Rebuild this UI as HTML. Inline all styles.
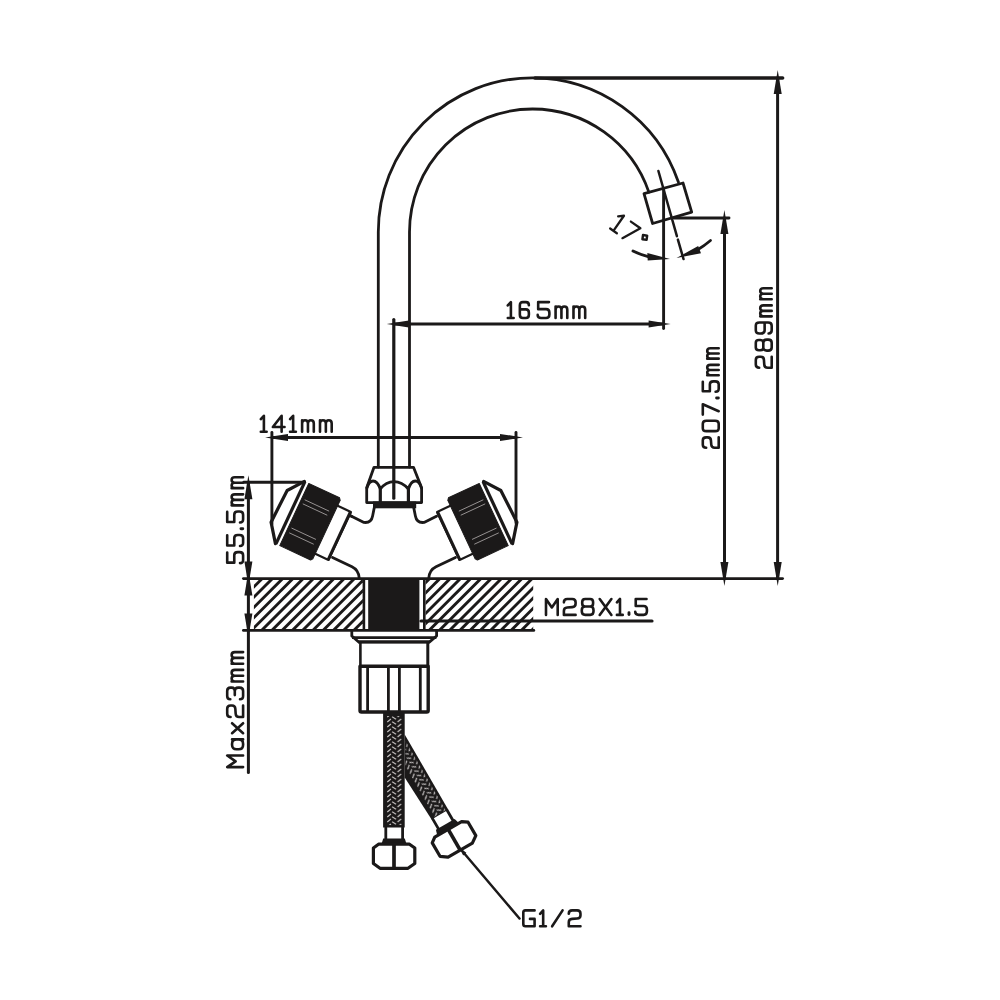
<!DOCTYPE html>
<html><head><meta charset="utf-8"><title>Faucet dimensions</title>
<style>
html,body{margin:0;padding:0;background:#fff;}
body{width:1000px;height:1000px;overflow:hidden;font-family:"Liberation Sans",sans-serif;}
svg{display:block;}
</style></head><body>
<svg width="1000" height="1000" viewBox="0 0 1000 1000">
<rect width="1000" height="1000" fill="#ffffff"/>
<path d="M378.30,467 L378.30,232.0 A154.2,154.2 0 0 1 532.5,77.80000000000001 A154.2,154.2 0 0 1 678.39,182.05" fill="none" stroke="#1b1919" stroke-width="2.8" stroke-linejoin="round" stroke-linecap="round" />
<path d="M409.50,467 L409.50,232.0 A123.0,123.0 0 0 1 532.5,109.0 A123.0,123.0 0 0 1 648.87,192.16" fill="none" stroke="#1b1919" stroke-width="2.8" stroke-linejoin="round" stroke-linecap="round" />
<line x1="393.8" y1="319.5" x2="393.8" y2="498.2" stroke="#1b1919" stroke-width="3.2" stroke-linecap="round"/>
<path d="M644,193.6 L683,183 L691.7,212.2 L652.6,223.5 Z" fill="none" stroke="#1b1919" stroke-width="2.8" stroke-linejoin="round" stroke-linecap="round" />
<path d="M374,467.3 L413.5,467.3 L421.6,487.8 L421.6,502.6 L366.7,502.6 L366.7,487.8 Z" fill="none" stroke="#1b1919" stroke-width="2.8" stroke-linejoin="round" stroke-linecap="round" />
<path d="M366.9,488 Q369,481 373,481 Q377.5,481 380.3,489 Q386,481.6 394,481.6 Q402,481.6 408.4,489 Q411,481 415.3,481 Q419.5,481 421.4,488" fill="none" stroke="#1b1919" stroke-width="2.8" stroke-linejoin="round" stroke-linecap="round" />
<line x1="380.3" y1="488.5" x2="380.3" y2="502" stroke="#1b1919" stroke-width="3.2" stroke-linecap="butt"/>
<line x1="408.4" y1="488.5" x2="408.4" y2="502" stroke="#1b1919" stroke-width="3.2" stroke-linecap="butt"/>
<rect x="373" y="501.5" width="43.2" height="6.8" fill="#1b1919"/>
<path d="M374.2,508 L372.6,516 Q371.3,523.2 364,522.4 L351.5,516.2" fill="none" stroke="#1b1919" stroke-width="2.8" stroke-linejoin="round" stroke-linecap="round" />
<path d="M413.8,508 L415.4,516 Q416.7,523.2 424,522.4 L436.5,516.2" fill="none" stroke="#1b1919" stroke-width="2.8" stroke-linejoin="round" stroke-linecap="round" />
<g transform="translate(303.5,481) rotate(25.0)">
<path d="M1,0 L-10.8,15.5 L-12,51 L1,68.6" fill="none" stroke="#1b1919" stroke-width="3.2" stroke-linejoin="round" stroke-linecap="round" />
<rect x="0" y="0" width="3.2" height="68.6" fill="#1b1919"/>
<path d="M5.8,0 L39.8,0 L41.4,2 L41.4,66.6 L39.8,68.6 L5.8,68.6 Z" fill="#1b1919" stroke="#1b1919" stroke-width="1" stroke-linejoin="round"/>
<line x1="9" y1="16.5" x2="36" y2="16.5" stroke="#b8b4b4" stroke-width="0.7"/>
<line x1="9" y1="21" x2="36" y2="21" stroke="#b8b4b4" stroke-width="0.7"/>
<line x1="9" y1="47.7" x2="36" y2="47.7" stroke="#b8b4b4" stroke-width="0.7"/>
<line x1="9" y1="53" x2="36" y2="53" stroke="#b8b4b4" stroke-width="0.7"/>
<path d="M41.4,8 L56,8 L56,61 L41.4,61" fill="none" stroke="#1b1919" stroke-width="2.2" stroke-linejoin="round" stroke-linecap="round" />
<line x1="55.6" y1="8" x2="55.6" y2="61" stroke="#1b1919" stroke-width="3.0" stroke-linecap="butt"/>
</g>
<g transform="translate(788,0) scale(-1,1)"><g transform="translate(303.5,481) rotate(25.0)">
<path d="M1,0 L-10.8,15.5 L-12,51 L1,68.6" fill="none" stroke="#1b1919" stroke-width="3.2" stroke-linejoin="round" stroke-linecap="round" />
<rect x="0" y="0" width="3.2" height="68.6" fill="#1b1919"/>
<path d="M5.8,0 L39.8,0 L41.4,2 L41.4,66.6 L39.8,68.6 L5.8,68.6 Z" fill="#1b1919" stroke="#1b1919" stroke-width="1" stroke-linejoin="round"/>
<line x1="9" y1="16.5" x2="36" y2="16.5" stroke="#b8b4b4" stroke-width="0.7"/>
<line x1="9" y1="21" x2="36" y2="21" stroke="#b8b4b4" stroke-width="0.7"/>
<line x1="9" y1="47.7" x2="36" y2="47.7" stroke="#b8b4b4" stroke-width="0.7"/>
<line x1="9" y1="53" x2="36" y2="53" stroke="#b8b4b4" stroke-width="0.7"/>
<path d="M41.4,8 L56,8 L56,61 L41.4,61" fill="none" stroke="#1b1919" stroke-width="2.2" stroke-linejoin="round" stroke-linecap="round" />
<line x1="55.6" y1="8" x2="55.6" y2="61" stroke="#1b1919" stroke-width="3.0" stroke-linecap="butt"/>
</g></g>
<path d="M332.5,557.5 L352,566.8 Q358.6,570 359.2,578" fill="none" stroke="#1b1919" stroke-width="2.8" stroke-linejoin="round" stroke-linecap="round" />
<path d="M455.5,557.5 L436,566.8 Q429.4,570 428.8,578" fill="none" stroke="#1b1919" stroke-width="2.8" stroke-linejoin="round" stroke-linecap="round" />
<path d="M351.5,516.2 L350.5,515.7" fill="none" stroke="#1b1919" stroke-width="2.8" stroke-linejoin="round" stroke-linecap="round" />
<defs><clipPath id="hL"><rect x="253.9" y="578.6" width="109" height="51.8"/></clipPath><clipPath id="hR"><rect x="425.6" y="578.6" width="107.6" height="51.8"/></clipPath></defs>
<g clip-path="url(#hL)" stroke="#1b1919" stroke-width="2.9">
<line x1="154.10" y1="635.4" x2="219.10" y2="570.4"/>
<line x1="164.35" y1="635.4" x2="229.35" y2="570.4"/>
<line x1="174.60" y1="635.4" x2="239.60" y2="570.4"/>
<line x1="184.85" y1="635.4" x2="249.85" y2="570.4"/>
<line x1="195.10" y1="635.4" x2="260.10" y2="570.4"/>
<line x1="205.35" y1="635.4" x2="270.35" y2="570.4"/>
<line x1="215.60" y1="635.4" x2="280.60" y2="570.4"/>
<line x1="225.85" y1="635.4" x2="290.85" y2="570.4"/>
<line x1="236.10" y1="635.4" x2="301.10" y2="570.4"/>
<line x1="246.35" y1="635.4" x2="311.35" y2="570.4"/>
<line x1="256.60" y1="635.4" x2="321.60" y2="570.4"/>
<line x1="266.85" y1="635.4" x2="331.85" y2="570.4"/>
<line x1="277.10" y1="635.4" x2="342.10" y2="570.4"/>
<line x1="287.35" y1="635.4" x2="352.35" y2="570.4"/>
<line x1="297.60" y1="635.4" x2="362.60" y2="570.4"/>
<line x1="307.85" y1="635.4" x2="372.85" y2="570.4"/>
<line x1="318.10" y1="635.4" x2="383.10" y2="570.4"/>
<line x1="328.35" y1="635.4" x2="393.35" y2="570.4"/>
<line x1="338.60" y1="635.4" x2="403.60" y2="570.4"/>
<line x1="348.85" y1="635.4" x2="413.85" y2="570.4"/>
<line x1="359.10" y1="635.4" x2="424.10" y2="570.4"/>
</g>
<g clip-path="url(#hR)" stroke="#1b1919" stroke-width="2.9">
<line x1="157.60" y1="635.4" x2="222.60" y2="570.4"/>
<line x1="167.85" y1="635.4" x2="232.85" y2="570.4"/>
<line x1="178.10" y1="635.4" x2="243.10" y2="570.4"/>
<line x1="188.35" y1="635.4" x2="253.35" y2="570.4"/>
<line x1="198.60" y1="635.4" x2="263.60" y2="570.4"/>
<line x1="208.85" y1="635.4" x2="273.85" y2="570.4"/>
<line x1="219.10" y1="635.4" x2="284.10" y2="570.4"/>
<line x1="229.35" y1="635.4" x2="294.35" y2="570.4"/>
<line x1="239.60" y1="635.4" x2="304.60" y2="570.4"/>
<line x1="249.85" y1="635.4" x2="314.85" y2="570.4"/>
<line x1="260.10" y1="635.4" x2="325.10" y2="570.4"/>
<line x1="270.35" y1="635.4" x2="335.35" y2="570.4"/>
<line x1="280.60" y1="635.4" x2="345.60" y2="570.4"/>
<line x1="290.85" y1="635.4" x2="355.85" y2="570.4"/>
<line x1="301.10" y1="635.4" x2="366.10" y2="570.4"/>
<line x1="311.35" y1="635.4" x2="376.35" y2="570.4"/>
<line x1="321.60" y1="635.4" x2="386.60" y2="570.4"/>
<line x1="331.85" y1="635.4" x2="396.85" y2="570.4"/>
<line x1="342.10" y1="635.4" x2="407.10" y2="570.4"/>
<line x1="352.35" y1="635.4" x2="417.35" y2="570.4"/>
<line x1="362.60" y1="635.4" x2="427.60" y2="570.4"/>
<line x1="372.85" y1="635.4" x2="437.85" y2="570.4"/>
<line x1="383.10" y1="635.4" x2="448.10" y2="570.4"/>
<line x1="393.35" y1="635.4" x2="458.35" y2="570.4"/>
<line x1="403.60" y1="635.4" x2="468.60" y2="570.4"/>
<line x1="413.85" y1="635.4" x2="478.85" y2="570.4"/>
<line x1="424.10" y1="635.4" x2="489.10" y2="570.4"/>
<line x1="434.35" y1="635.4" x2="499.35" y2="570.4"/>
<line x1="444.60" y1="635.4" x2="509.60" y2="570.4"/>
<line x1="454.85" y1="635.4" x2="519.85" y2="570.4"/>
<line x1="465.10" y1="635.4" x2="530.10" y2="570.4"/>
<line x1="475.35" y1="635.4" x2="540.35" y2="570.4"/>
<line x1="485.60" y1="635.4" x2="550.60" y2="570.4"/>
<line x1="495.85" y1="635.4" x2="560.85" y2="570.4"/>
<line x1="506.10" y1="635.4" x2="571.10" y2="570.4"/>
<line x1="516.35" y1="635.4" x2="581.35" y2="570.4"/>
<line x1="526.60" y1="635.4" x2="591.60" y2="570.4"/>
<line x1="536.85" y1="635.4" x2="601.85" y2="570.4"/>
</g>
<line x1="243.4" y1="578.6" x2="782.6" y2="578.6" stroke="#1b1919" stroke-width="2.8" stroke-linecap="round"/>
<line x1="243.4" y1="630.4" x2="533.8" y2="630.4" stroke="#1b1919" stroke-width="2.8" stroke-linecap="round"/>
<line x1="363.9" y1="578.6" x2="363.9" y2="630.4" stroke="#1b1919" stroke-width="2.6" stroke-linecap="butt"/>
<line x1="424.3" y1="578.6" x2="424.3" y2="630.4" stroke="#1b1919" stroke-width="2.6" stroke-linecap="butt"/>
<rect x="368.2" y="578.6" width="51.2" height="52" fill="#1b1919"/>
<line x1="421" y1="621" x2="652" y2="621" stroke="#1b1919" stroke-width="3.2" stroke-linecap="round"/>
<path d="M351.8,630.5 L351.8,636 L358.4,641.8 L429.6,641.8 L436.6,636 L436.6,630.5" fill="none" stroke="#1b1919" stroke-width="2.8" stroke-linejoin="round" stroke-linecap="round" />
<line x1="352" y1="637.6" x2="436.4" y2="637.6" stroke="#1b1919" stroke-width="2.6" stroke-linecap="butt"/>
<line x1="358" y1="642" x2="430" y2="642" stroke="#1b1919" stroke-width="3.0" stroke-linecap="butt"/>
<line x1="360.4" y1="642" x2="360.4" y2="666" stroke="#1b1919" stroke-width="2.6" stroke-linecap="butt"/>
<line x1="427.8" y1="642" x2="427.8" y2="666" stroke="#1b1919" stroke-width="3.0" stroke-linecap="butt"/>
<path d="M360,666.2 L428.2,666.2 L428.2,710.5 Q428.2,712 426.7,712 L361.5,712 Q360,712 360,710.5 Z" fill="none" stroke="#1b1919" stroke-width="3.4" stroke-linejoin="round" stroke-linecap="round" />
<line x1="367.6" y1="666" x2="367.6" y2="712" stroke="#1b1919" stroke-width="2.8" stroke-linecap="butt"/>
<line x1="388.4" y1="666" x2="388.4" y2="712" stroke="#1b1919" stroke-width="2.8" stroke-linecap="butt"/>
<line x1="399.4" y1="666" x2="399.4" y2="712" stroke="#1b1919" stroke-width="2.8" stroke-linecap="butt"/>
<line x1="420.3" y1="666" x2="420.3" y2="712" stroke="#1b1919" stroke-width="2.8" stroke-linecap="butt"/>
<defs><pattern id="hb" x="383.1" y="713" width="21.6" height="5" patternUnits="userSpaceOnUse"><path d="M4.2,4 L7.8,1 M9,-1.3 L12.9,1.3 M9,3.7 L12.9,6.3 M14.4,4 L18,1" stroke="#c9c5c5" stroke-width="1.1" fill="none"/></pattern></defs>
<rect x="383.1" y="712.5" width="21.6" height="115" fill="#1b1919"/>
<rect x="383.1" y="716" width="21.6" height="109" fill="url(#hb)"/>
<path d="M385.8,827.4 L385.8,839 M402.6,827.4 L402.6,839" fill="none" stroke="#1b1919" stroke-width="2.8" stroke-linejoin="round" stroke-linecap="round" />
<path d="M383.2,838.4 L404.8,838.4 L406.5,844 L381.5,844 Z" fill="#1b1919"/>
<path d="M378.5,844.2 L409.5,844.2 L414.8,848 L414.8,863.5 L408,868.3 L380,868.3 L373.4,863.5 L373.4,848 Z" fill="none" stroke="#1b1919" stroke-width="3.2" stroke-linejoin="round" stroke-linecap="round" />
<line x1="394" y1="844" x2="394" y2="868.5" stroke="#1b1919" stroke-width="3.7" stroke-linecap="butt"/>
<path d="M404.7,734.4 L448.3,809.8 L431.6,819.5 L404.7,777.6 Z" fill="#1b1919"/>
<defs><clipPath id="rh"><path d="M405.5,741 L445.6,810.2 L433.2,817.4 L405.5,777 Z"/></clipPath></defs>
<g clip-path="url(#rh)"><g transform="translate(0.8,-0.7) rotate(-30 394.2 737.5)"><rect x="381.1" y="730" width="21.6" height="100" fill="url(#hb)" transform="translate(1.6,0) "/></g></g>
<g transform="translate(0.8,-0.7) rotate(-30 394.2 737.5)">
<path d="M385.8,827.4 L385.8,839 M402.6,827.4 L402.6,839" fill="none" stroke="#1b1919" stroke-width="2.8" stroke-linejoin="round" stroke-linecap="round" />
<path d="M383.2,838.4 L404.8,838.4 L406.5,844 L381.5,844 Z" fill="#1b1919"/>
<path d="M378.5,844.2 L409.5,844.2 L414.8,848 L414.8,863.5 L408,868.3 L380,868.3 L373.4,863.5 L373.4,848 Z" fill="none" stroke="#1b1919" stroke-width="3.2" stroke-linejoin="round" stroke-linecap="round" />
<line x1="394" y1="844" x2="394" y2="868.5" stroke="#1b1919" stroke-width="3.7" stroke-linecap="butt"/>
</g>
<line x1="460.5" y1="849" x2="519.5" y2="918.5" stroke="#1b1919" stroke-width="2.5" stroke-linecap="round"/>
<polygon points="459.60,848.00 466.38,852.74 463.17,855.46" fill="#1b1919" stroke="none"/>
<line x1="535" y1="78" x2="782.6" y2="78" stroke="#1b1919" stroke-width="3.6" stroke-linecap="round"/>
<line x1="777.6" y1="78" x2="777.6" y2="578.6" stroke="#1b1919" stroke-width="3.0" stroke-linecap="butt"/>
<polygon points="777.70,70.00 781.70,94.00 773.70,94.00" fill="#1b1919" stroke="none"/>
<polygon points="777.70,586.10 773.70,562.10 781.70,562.10" fill="#1b1919" stroke="none"/>
<line x1="674" y1="218" x2="729" y2="218" stroke="#1b1919" stroke-width="2.9" stroke-linecap="round"/>
<line x1="724.5" y1="218" x2="724.5" y2="578.6" stroke="#1b1919" stroke-width="3.0" stroke-linecap="butt"/>
<polygon points="724.40,210.00 728.40,234.00 720.40,234.00" fill="#1b1919" stroke="none"/>
<polygon points="724.40,586.10 720.40,562.10 728.40,562.10" fill="#1b1919" stroke="none"/>
<line x1="393.8" y1="324" x2="663.6" y2="324" stroke="#1b1919" stroke-width="3.1" stroke-linecap="butt"/>
<polygon points="386.80,324.00 408.80,320.50 408.80,327.50" fill="#1b1919" stroke="none"/>
<polygon points="670.60,324.00 648.60,327.50 648.60,320.50" fill="#1b1919" stroke="none"/>
<line x1="663.6" y1="189" x2="663.6" y2="328.5" stroke="#1b1919" stroke-width="2.9" stroke-linecap="round"/>
<line x1="658.4" y1="171" x2="676.9" y2="236.2" stroke="#1b1919" stroke-width="2.5" stroke-linecap="round"/>
<line x1="677.9" y1="239.6" x2="683.5" y2="259" stroke="#1b1919" stroke-width="2.5" stroke-linecap="round"/>
<path d="M633,251 Q641,255 649,256.8" fill="none" stroke="#1b1919" stroke-width="2.8" stroke-linejoin="round" stroke-linecap="round" />
<polygon points="670,259 647.3,253 647.7,260.6" fill="#1b1919"/>
<path d="M710.5,240.5 Q704,246 698,249.5" fill="none" stroke="#1b1919" stroke-width="2.8" stroke-linejoin="round" stroke-linecap="round" />
<polygon points="676.5,258 698.2,246 701,253.2" fill="#1b1919"/>
<line x1="272" y1="437.4" x2="516" y2="437.4" stroke="#1b1919" stroke-width="3.0" stroke-linecap="butt"/>
<line x1="271.9" y1="432.5" x2="271.9" y2="524" stroke="#1b1919" stroke-width="2.9" stroke-linecap="round"/>
<line x1="516" y1="432.5" x2="516" y2="523" stroke="#1b1919" stroke-width="2.9" stroke-linecap="round"/>
<polygon points="265.00,437.40 288.00,433.90 288.00,440.90" fill="#1b1919" stroke="none"/>
<polygon points="523.00,437.40 500.00,440.90 500.00,433.90" fill="#1b1919" stroke="none"/>
<line x1="243.8" y1="482.2" x2="303.5" y2="482.2" stroke="#1b1919" stroke-width="2.9" stroke-linecap="round"/>
<line x1="248.4" y1="482.2" x2="248.4" y2="772.4" stroke="#1b1919" stroke-width="3.0" stroke-linecap="round"/>
<polygon points="248.40,475.20 252.40,499.20 244.40,499.20" fill="#1b1919" stroke="none"/>
<polygon points="248.40,585.60 244.40,561.60 252.40,561.60" fill="#1b1919" stroke="none"/>
<polygon points="248.40,571.60 252.40,595.60 244.40,595.60" fill="#1b1919" stroke="none"/>
<polygon points="248.40,637.40 244.40,613.40 252.40,613.40" fill="#1b1919" stroke="none"/>
<g transform="translate(507.20,319.30) rotate(0)" fill="none" stroke="#1b1919" stroke-width="2.6" stroke-linecap="round" stroke-linejoin="round">
<path transform="translate(0.60,-1.30) scale(0.8357,0.8833) translate(0,-18)" vector-effect="non-scaling-stroke" d="M0,3.8 L3.7,0 L3.7,18 M0,18 L7.0,18"/>
<path transform="translate(12.65,-1.30) scale(0.8357,0.8833) translate(0,-18)" vector-effect="non-scaling-stroke" d="M10.8,3.5 Q10.8,0 7.4,0 L3.6,0 Q0,0 0,3.8 L0,14.2 Q0,18 3.6,18 L7.2,18 Q10.8,18 10.8,14.2 L10.8,12 Q10.8,8.2 7.2,8.2 L0,8.2"/>
<path transform="translate(30.48,-1.30) scale(0.8357,0.8833) translate(0,-18)" vector-effect="non-scaling-stroke" d="M13.5,0 L0.6,0 L0.6,8 L10,8 Q14,8 14,12 L14,14 Q14,18 10,18 L4,18 Q0,18 0,14.5"/>
<path transform="translate(48.38,-1.30) scale(0.8357,0.8833) translate(0,-18)" vector-effect="non-scaling-stroke" d="M0,18 L0,5 M0,8.6 Q0,5 3.5,5 Q7,5 7,8.6 L7,18 M7,8.6 Q7,5 10.5,5 Q14,5 14,8.6 L14,18"/>
<path transform="translate(66.28,-1.30) scale(0.8357,0.8833) translate(0,-18)" vector-effect="non-scaling-stroke" d="M0,18 L0,5 M0,8.6 Q0,5 3.5,5 Q7,5 7,8.6 L7,18 M7,8.6 Q7,5 10.5,5 Q14,5 14,8.6 L14,18"/>
</g>
<g transform="translate(260.20,433.00) rotate(0)" fill="none" stroke="#1b1919" stroke-width="2.6" stroke-linecap="round" stroke-linejoin="round">
<path transform="translate(0.60,-1.30) scale(0.8357,0.8833) translate(0,-18)" vector-effect="non-scaling-stroke" d="M0,3.8 L3.7,0 L3.7,18 M0,18 L7.0,18"/>
<path transform="translate(12.65,-1.30) scale(0.8357,0.8833) translate(0,-18)" vector-effect="non-scaling-stroke" d="M10.5,18 L10.5,0 L0,12.6 L14,12.6"/>
<path transform="translate(29.85,-1.30) scale(0.8357,0.8833) translate(0,-18)" vector-effect="non-scaling-stroke" d="M0,3.8 L3.7,0 L3.7,18 M0,18 L7.0,18"/>
<path transform="translate(41.90,-1.30) scale(0.8357,0.8833) translate(0,-18)" vector-effect="non-scaling-stroke" d="M0,18 L0,5 M0,8.6 Q0,5 3.5,5 Q7,5 7,8.6 L7,18 M7,8.6 Q7,5 10.5,5 Q14,5 14,8.6 L14,18"/>
<path transform="translate(59.80,-1.30) scale(0.8357,0.8833) translate(0,-18)" vector-effect="non-scaling-stroke" d="M0,18 L0,5 M0,8.6 Q0,5 3.5,5 Q7,5 7,8.6 L7,18 M7,8.6 Q7,5 10.5,5 Q14,5 14,8.6 L14,18"/>
</g>
<g transform="translate(544.70,616.20) rotate(0)" fill="none" stroke="#1b1919" stroke-width="2.6" stroke-linecap="round" stroke-linejoin="round">
<path transform="translate(1.30,-1.30) scale(0.8357,0.8833) translate(0,-18)" vector-effect="non-scaling-stroke" d="M0,18 L0,0 L7,9.5 L14,0 L14,18"/>
<path transform="translate(19.20,-1.30) scale(0.8357,0.8833) translate(0,-18)" vector-effect="non-scaling-stroke" d="M0,3.8 Q0,0 4,0 L10,0 Q14,0 14,3.8 L14,5.5 Q14,9 10,9.2 L4,9.6 Q0,9.8 0,13.5 L0,18 L14,18"/>
<path transform="translate(37.10,-1.30) scale(0.8357,0.8833) translate(0,-18)" vector-effect="non-scaling-stroke" d="M4,0 L10,0 Q13.5,0 13.5,3.5 L13.5,5 Q13.5,8.5 10,8.5 L4,8.5 Q0.5,8.5 0.5,5 L0.5,3.5 Q0.5,0 4,0 Z M4,8.5 Q0,8.5 0,12.5 L0,14 Q0,18 4,18 L10,18 Q14,18 14,14 L14,12.5 Q14,8.5 10,8.5"/>
<path transform="translate(55.00,-1.30) scale(0.8357,0.8833) translate(0,-18)" vector-effect="non-scaling-stroke" d="M0,0 L14,18 M14,0 L0,18"/>
<path transform="translate(72.20,-1.30) scale(0.8357,0.8833) translate(0,-18)" vector-effect="non-scaling-stroke" d="M0,3.8 L3.7,0 L3.7,18 M0,18 L7.0,18"/>
<path transform="translate(84.25,-1.30) scale(0.8357,0.8833) translate(0,-18)" vector-effect="non-scaling-stroke" d="M0.05,15.6 L0.05,17.6" stroke-width="2.9"/>
<path transform="translate(90.53,-1.30) scale(0.8357,0.8833) translate(0,-18)" vector-effect="non-scaling-stroke" d="M13.5,0 L0.6,0 L0.6,8 L10,8 Q14,8 14,12 L14,14 Q14,18 10,18 L4,18 Q0,18 0,14.5"/>
</g>
<g transform="translate(522.00,927.60) rotate(0)" fill="none" stroke="#1b1919" stroke-width="2.6" stroke-linecap="round" stroke-linejoin="round">
<path transform="translate(1.30,-1.30) scale(0.8357,0.8833) translate(0,-18)" vector-effect="non-scaling-stroke" d="M13.5,0 L2.5,0 Q0,0 0,2.5 L0,15.5 Q0,18 2.5,18 L13.5,18 L13.5,9.6 L8,9.6"/>
<path transform="translate(18.08,-1.30) scale(0.8357,0.8833) translate(0,-18)" vector-effect="non-scaling-stroke" d="M0,3.8 L3.7,0 L3.7,18 M0,18 L7.0,18"/>
<path transform="translate(30.13,-1.30) scale(0.8357,0.8833) translate(0,-18)" vector-effect="non-scaling-stroke" d="M12.5,0 L0,18"/>
<path transform="translate(46.78,-1.30) scale(0.8357,0.8833) translate(0,-18)" vector-effect="non-scaling-stroke" d="M0,3.8 Q0,0 4,0 L10,0 Q14,0 14,3.8 L14,5.5 Q14,9 10,9.2 L4,9.6 Q0,9.8 0,13.5 L0,18 L14,18"/>
</g>
<g transform="translate(244.40,564.40) rotate(-90)" fill="none" stroke="#1b1919" stroke-width="2.6" stroke-linecap="round" stroke-linejoin="round">
<path transform="translate(1.30,-1.30) scale(0.7832,0.8833) translate(0,-18)" vector-effect="non-scaling-stroke" d="M13.5,0 L0.6,0 L0.6,8 L10,8 Q14,8 14,12 L14,14 Q14,18 10,18 L4,18 Q0,18 0,14.5"/>
<path transform="translate(18.46,-1.30) scale(0.7832,0.8833) translate(0,-18)" vector-effect="non-scaling-stroke" d="M13.5,0 L0.6,0 L0.6,8 L10,8 Q14,8 14,12 L14,14 Q14,18 10,18 L4,18 Q0,18 0,14.5"/>
<path transform="translate(35.63,-1.30) scale(0.7832,0.8833) translate(0,-18)" vector-effect="non-scaling-stroke" d="M0.05,15.6 L0.05,17.6" stroke-width="2.9"/>
<path transform="translate(41.91,-1.30) scale(0.7832,0.8833) translate(0,-18)" vector-effect="non-scaling-stroke" d="M13.5,0 L0.6,0 L0.6,8 L10,8 Q14,8 14,12 L14,14 Q14,18 10,18 L4,18 Q0,18 0,14.5"/>
<path transform="translate(59.07,-1.30) scale(0.7832,0.8833) translate(0,-18)" vector-effect="non-scaling-stroke" d="M0,18 L0,5 M0,8.6 Q0,5 3.5,5 Q7,5 7,8.6 L7,18 M7,8.6 Q7,5 10.5,5 Q14,5 14,8.6 L14,18"/>
<path transform="translate(76.24,-1.30) scale(0.7832,0.8833) translate(0,-18)" vector-effect="non-scaling-stroke" d="M0,18 L0,5 M0,8.6 Q0,5 3.5,5 Q7,5 7,8.6 L7,18 M7,8.6 Q7,5 10.5,5 Q14,5 14,8.6 L14,18"/>
</g>
<g transform="translate(244.40,768.40) rotate(-90)" fill="none" stroke="#1b1919" stroke-width="2.6" stroke-linecap="round" stroke-linejoin="round">
<path transform="translate(1.30,-1.30) scale(0.8277,0.8833) translate(0,-18)" vector-effect="non-scaling-stroke" d="M0,18 L0,0 L7,9.5 L14,0 L14,18"/>
<path transform="translate(19.09,-1.30) scale(0.8277,0.8833) translate(0,-18)" vector-effect="non-scaling-stroke" d="M12,5.5 L12,18 M12,10.5 Q12,5.5 6.5,5.5 L5.5,5.5 Q0,5.5 0,10.5 L0,13 Q0,18 5.5,18 L6.5,18 Q12,18 12,13"/>
<path transform="translate(35.22,-1.30) scale(0.8277,0.8833) translate(0,-18)" vector-effect="non-scaling-stroke" d="M0,5.5 L12,18 M12,5.5 L0,18"/>
<path transform="translate(51.35,-1.30) scale(0.8277,0.8833) translate(0,-18)" vector-effect="non-scaling-stroke" d="M0,3.8 Q0,0 4,0 L10,0 Q14,0 14,3.8 L14,5.5 Q14,9 10,9.2 L4,9.6 Q0,9.8 0,13.5 L0,18 L14,18"/>
<path transform="translate(69.14,-1.30) scale(0.8277,0.8833) translate(0,-18)" vector-effect="non-scaling-stroke" d="M0,3.5 Q0,0 4,0 L10,0 Q14,0 14,3.8 L14,5 Q14,8.6 10,8.6 L5,8.6 M10,8.6 Q14,8.6 14,12.4 L14,14 Q14,18 10,18 L4,18 Q0,18 0,14.5"/>
<path transform="translate(86.93,-1.30) scale(0.8277,0.8833) translate(0,-18)" vector-effect="non-scaling-stroke" d="M0,18 L0,5 M0,8.6 Q0,5 3.5,5 Q7,5 7,8.6 L7,18 M7,8.6 Q7,5 10.5,5 Q14,5 14,8.6 L14,18"/>
<path transform="translate(104.71,-1.30) scale(0.8277,0.8833) translate(0,-18)" vector-effect="non-scaling-stroke" d="M0,18 L0,5 M0,8.6 Q0,5 3.5,5 Q7,5 7,8.6 L7,18 M7,8.6 Q7,5 10.5,5 Q14,5 14,8.6 L14,18"/>
</g>
<g transform="translate(720.00,449.00) rotate(-90)" fill="none" stroke="#1b1919" stroke-width="2.6" stroke-linecap="round" stroke-linejoin="round">
<path transform="translate(1.30,-1.30) scale(0.7396,0.8833) translate(0,-18)" vector-effect="non-scaling-stroke" d="M0,3.8 Q0,0 4,0 L10,0 Q14,0 14,3.8 L14,5.5 Q14,9 10,9.2 L4,9.6 Q0,9.8 0,13.5 L0,18 L14,18"/>
<path transform="translate(17.85,-1.30) scale(0.7396,0.8833) translate(0,-18)" vector-effect="non-scaling-stroke" d="M4,0 L10,0 Q14,0 14,4 L14,14 Q14,18 10,18 L4,18 Q0,18 0,14 L0,4 Q0,0 4,0 Z"/>
<path transform="translate(34.41,-1.30) scale(0.7396,0.8833) translate(0,-18)" vector-effect="non-scaling-stroke" d="M0,0 L14,0 L4.5,18"/>
<path transform="translate(50.96,-1.30) scale(0.7396,0.8833) translate(0,-18)" vector-effect="non-scaling-stroke" d="M0.05,15.6 L0.05,17.6" stroke-width="2.9"/>
<path transform="translate(57.24,-1.30) scale(0.7396,0.8833) translate(0,-18)" vector-effect="non-scaling-stroke" d="M13.5,0 L0.6,0 L0.6,8 L10,8 Q14,8 14,12 L14,14 Q14,18 10,18 L4,18 Q0,18 0,14.5"/>
<path transform="translate(73.79,-1.30) scale(0.7396,0.8833) translate(0,-18)" vector-effect="non-scaling-stroke" d="M0,18 L0,5 M0,8.6 Q0,5 3.5,5 Q7,5 7,8.6 L7,18 M7,8.6 Q7,5 10.5,5 Q14,5 14,8.6 L14,18"/>
<path transform="translate(90.35,-1.30) scale(0.7396,0.8833) translate(0,-18)" vector-effect="non-scaling-stroke" d="M0,18 L0,5 M0,8.6 Q0,5 3.5,5 Q7,5 7,8.6 L7,18 M7,8.6 Q7,5 10.5,5 Q14,5 14,8.6 L14,18"/>
</g>
<g transform="translate(773.00,369.00) rotate(-90)" fill="none" stroke="#1b1919" stroke-width="2.6" stroke-linecap="round" stroke-linejoin="round">
<path transform="translate(1.30,-1.30) scale(0.7800,0.8833) translate(0,-18)" vector-effect="non-scaling-stroke" d="M0,3.8 Q0,0 4,0 L10,0 Q14,0 14,3.8 L14,5.5 Q14,9 10,9.2 L4,9.6 Q0,9.8 0,13.5 L0,18 L14,18"/>
<path transform="translate(18.42,-1.30) scale(0.7800,0.8833) translate(0,-18)" vector-effect="non-scaling-stroke" d="M4,0 L10,0 Q13.5,0 13.5,3.5 L13.5,5 Q13.5,8.5 10,8.5 L4,8.5 Q0.5,8.5 0.5,5 L0.5,3.5 Q0.5,0 4,0 Z M4,8.5 Q0,8.5 0,12.5 L0,14 Q0,18 4,18 L10,18 Q14,18 14,14 L14,12.5 Q14,8.5 10,8.5"/>
<path transform="translate(35.54,-1.30) scale(0.7800,0.8833) translate(0,-18)" vector-effect="non-scaling-stroke" d="M0,14.5 Q0,18 4,18 L10,18 Q14,18 14,14 L14,4 Q14,0 10,0 L4,0 Q0,0 0,4 L0,6 Q0,10 4,10 L14,10"/>
<path transform="translate(52.66,-1.30) scale(0.7800,0.8833) translate(0,-18)" vector-effect="non-scaling-stroke" d="M0,18 L0,5 M0,8.6 Q0,5 3.5,5 Q7,5 7,8.6 L7,18 M7,8.6 Q7,5 10.5,5 Q14,5 14,8.6 L14,18"/>
<path transform="translate(69.78,-1.30) scale(0.7800,0.8833) translate(0,-18)" vector-effect="non-scaling-stroke" d="M0,18 L0,5 M0,8.6 Q0,5 3.5,5 Q7,5 7,8.6 L7,18 M7,8.6 Q7,5 10.5,5 Q14,5 14,8.6 L14,18"/>
</g>
<g transform="translate(609.8,228.3) rotate(35)" fill="none" stroke="#1b1919" stroke-width="2.3" stroke-linecap="round" stroke-linejoin="round"><path d="M0,-14.6 L4.4,-18.4 L4.4,0 M0.4,0 L8.6,0"/><path d="M13.4,-17.6 L25,-17.6 L16,0.8"/></g>
<rect x="-2.1" y="-2.1" width="4.2" height="4.2" transform="translate(644.8,237.4) rotate(8)" fill="none" stroke="#1b1919" stroke-width="2.4" stroke-linejoin="round"/>
</svg>
</body></html>
